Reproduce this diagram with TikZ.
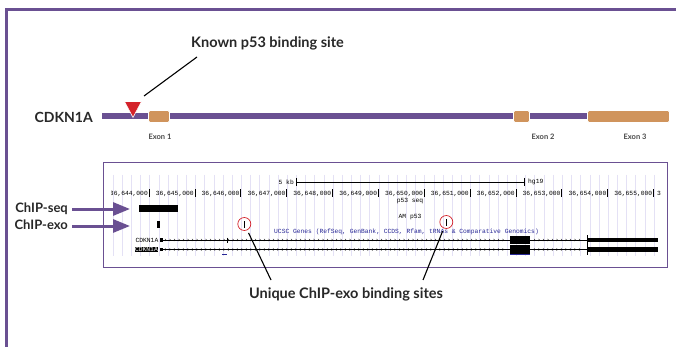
\documentclass[tikz,border=0pt]{standalone}
\usepackage{fontspec}
\setmainfont{Lato}
\setmonofont{Liberation Mono}
\usetikzlibrary{arrows.meta}
\definecolor{pur}{RGB}{106,80,146}
\definecolor{tanc}{RGB}{208,148,92}
\definecolor{rd}{RGB}{212,34,42}
\definecolor{gridc}{RGB}{228,225,245}
\definecolor{navyc}{RGB}{40,40,150}
\definecolor{txt}{RGB}{40,40,40}
\tikzset{
  biglabel/.style={font=\fontsize{14.5}{16}\selectfont\bfseries, text=txt, inner sep=0pt},
  sidelabel/.style={font=\fontsize{13}{15}\selectfont\bfseries, text=txt, inner sep=0pt},
  exonlabel/.style={font=\fontsize{7.5}{9}\selectfont\bfseries, text=txt!85, inner sep=0pt},
  exonbox/.style={fill=tanc, draw=white, line width=0.8pt, rounded corners=1.5pt},
  mono/.style={font=\ttfamily\fontsize{6.3}{7}\selectfont, inner sep=0pt},
  chiparrow/.style={draw=pur, line width=3pt, -{Triangle[length=17pt,width=13pt]}},
  pointer/.style={draw=black, line width=1.1pt},
  redring/.style={circle, draw=rd, line width=0.7pt, minimum size=13pt, inner sep=0pt},
}
\begin{document}
\begin{tikzpicture}[x=1pt,y=-1pt]
\useasboundingbox (0,0) rectangle (676,347);
\fill[white] (0,0) rectangle (676,347);
% outer frame
\draw[pur, line width=2.2pt] (6.5,349) -- (6.5,9.5) -- (678,9.5);

% gene model
\fill[pur] (102,113) rectangle (670,119);
\node[exonbox, minimum width=21pt, minimum height=12pt] (ex1) at (159,116.5) {};
\node[exonbox, minimum width=16pt, minimum height=12pt] (ex2) at (521.5,116.5) {};
\node[exonbox, minimum width=82pt, minimum height=12pt] (ex3) at (628.5,116.5) {};
\node[exonlabel] (ex1l) at (160,137) {Exon 1};
\node[exonlabel] (ex2l) at (543,137) {Exon 2};
\node[exonlabel] (ex3l) at (635,137) {Exon 3};
\node[sidelabel, anchor=east, font=\fontsize{14}{16}\selectfont\bfseries] (gene) at (93,117) {CDKN1A};
\fill[rd, draw=white, line width=0.6pt] (124.5,101.5) -- (141.5,101.5) -- (133,117.5) -- cycle;
\coordinate (tri) at (144,96);
\node[biglabel, anchor=west] (known) at (191,43) {Known p53 binding site};
\coordinate (knownfoot) at (197,57);
\draw[pointer] (tri) -- (knownfoot);

% browser box
\draw[pur, line width=0.9pt] (103,162) rectangle (667,267);
\begin{scope}
\clip (111.5,160) rectangle (661,265);
\foreach \i in {0,...,60} {
  \draw[gridc, line width=0.7pt] ({113+9.17*\i},175) -- ({113+9.17*\i},256);
}
\foreach \i in {0,...,11} {
  \pgfmathtruncatemacro{\k}{44+\i}
  \node[mono, anchor=east] at ({148+45.85*\i},193.5) {36,6\k,000};
  \draw[black, line width=0.6pt] ({149+45.85*\i},189.5) -- ({149+45.85*\i},197);
}
\end{scope}
\node[mono, anchor=west] (c656) at (657,193.5) {3};
% ruler
\node[mono, anchor=east] (kb) at (294,182) {5 kb};
\draw[black, line width=0.6pt] (296,178) -- (296,186) (296,182) -- (524,182) (524,178) -- (524,186);
\node[mono, anchor=west] (hg) at (528,182) {hg19};
\node[mono] (p53seq) at (410,201) {p53 seq};
\node[mono] (amp53) at (410,217) {AM p53};
\node[mono, text=navyc, anchor=west] (ucsc) at (274,232) {UCSC Genes (RefSeq, GenBank, CCDS, Rfam, tRNAs \& Comparative Genomics)};

% ChIP tracks
\node[fill=black, minimum width=39pt, minimum height=7.5pt, inner sep=0pt] (seqbar) at (158.5,208.5) {};
\node[fill=black, minimum width=2.2pt, minimum height=7pt, inner sep=0pt] (exobar) at (158.5,224.5) {};
\node[sidelabel, anchor=east] (chipseq) at (68,209) {ChIP-seq};
\node[sidelabel, anchor=east] (chipexo) at (68,225) {ChIP-exo};
\draw[chiparrow] (chipseq.east) ++(4,0) coordinate (cs0) -- (130,209) coordinate (cs1);
\draw[chiparrow] (chipexo.east) ++(4,1) coordinate (ce0) -- (130,226) coordinate (ce1);

% unique exo peaks
\fill[black] (243.5,220.5) rectangle (245,227.5);
\fill[black] (445.5,218.5) rectangle (447,225.5);
\node[redring] (r1) at (244.3,224) {};
\node[redring] (r2) at (446.3,222) {};

% gene rows
\node[mono, anchor=east] (row1) at (158.5,240) {CDKN1A};
\node[mono, anchor=east, fill=black, text=white, inner sep=0.5pt] (row2) at (158.5,249.5) {CDKN1A};
\foreach \y in {240,249.5} {
  \draw[black, line width=0.5pt] (161,\y) -- (587,\y);
  \fill[black] (160,{\y-1.8}) rectangle (163,{\y+1.8});
  \foreach \x in {166,170.5,...,584} {
    \pgfmathparse{(\x>507 && \x<532) ? 1 : 0}
    \ifnum\pgfmathresult=0
      \draw[black, line width=0.35pt] ({\x-1},{\y-1.1}) -- (\x,\y) -- ({\x-1},{\y+1.1});
    \fi
  }
  \fill[black] (587,{\y-2.2}) rectangle (658,{\y+2.2});
}
\fill[black] (510,236) rectangle (530,244.3);
\fill[black] (510,245.2) rectangle (530,253.5);
\draw[black, line width=0.8pt] (227,237.5) -- (227,242.5);
\draw[black, line width=0.9pt] (587.3,235) -- (587.3,254.5);
\draw[navyc, line width=0.6pt] (222,254.5) -- (227,254.5) (510,254.5) -- (530,254.5);

% pointers to unique label
\node[biglabel] (unique) at (346,294) {Unique ChIP-exo binding sites};
\coordinate (u1) at (271,280);
\coordinate (u2) at (423,280);
\draw[pointer, shorten <=3pt] (r1) -- (u1);
\draw[pointer, shorten <=3pt] (r2) -- (u2);
\end{tikzpicture}
\end{document}
